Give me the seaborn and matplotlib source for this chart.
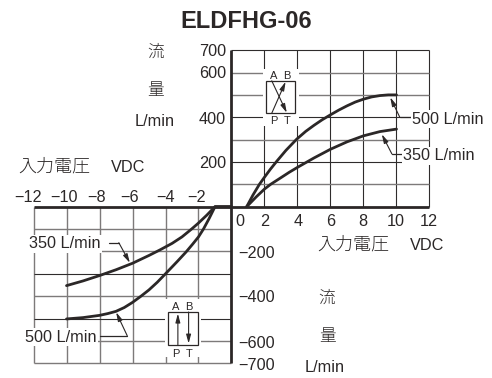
import matplotlib
matplotlib.use("Agg")
import matplotlib.pyplot as plt
import seaborn as sns
import pandas as pd
from matplotlib.patches import Rectangle

sns.set_theme(style="white")
plt.rcParams['font.family'] = ['Liberation Sans', 'Noto Sans CJK JP', 'DejaVu Sans']

TITLE = "ELDFHG-06"
volt_500_pos = [0.92, 1.3, 1.69, 2, 2.35, 2.74, 3.3, 3.95, 4.5, 5, 5.5, 6, 6.5, 7, 7.5, 8, 8.5, 9, 9.5, 10]
flow_500_pos = [0, 52, 100, 132, 167, 203, 252, 302, 337, 364, 389, 411, 432, 451, 468, 481, 491, 497, 500, 500]
volt_350_pos = [0.92, 1.5, 2, 2.37, 3, 3.5, 4, 5, 6, 7, 8, 9, 10]
flow_350_pos = [0, 44, 79, 100, 130, 154, 176, 218, 257, 290, 317, 336, 347]
volt_350_neg = [0, -1, -1.5, -2, -2.42, -3, -3.6, -4.33, -5, -6, -7, -8, -9, -10]
flow_350_neg = [0, 0, -38, -73, -100, -135, -164, -193, -218, -253, -282, -308, -332, -353]
volt_500_neg = [0, -1, -1.35, -1.7, -2, -2.35, -2.76, -3.3, -4, -4.5, -5, -5.5, -6, -6.5, -7, -7.5, -8, -9, -10]
flow_500_neg = [0, 0, -52, -100, -135, -167, -203, -246, -300, -338, -372, -401, -428, -451, -468, -478, -486, -496, -502]

x_grid_pos = [2, 4, 6, 8, 10, 12]
x_grid_neg = [-12, -10, -8, -6, -4, -2]
y_dark = [700, 400, 200, -300, -500]
y_grey = [600, 500, 300, 100, -100, -200, -400, -600, -700]

x_labels_pos = ["0", "2", "4", "6", "8", "10", "12"]
x_labels_neg = ["−12", "−10", "−8", "−6", "−4", "−2"]
y_labels_pos = ["700", "600", "400", "200"]
y_labels_neg = ["−200", "−400", "−600", "−700"]

df = pd.concat([
    pd.DataFrame({"v": volt_500_pos, "q": flow_500_pos, "s": "500+"}),
    pd.DataFrame({"v": volt_350_pos, "q": flow_350_pos, "s": "350+"}),
    pd.DataFrame({"v": volt_350_neg, "q": flow_350_neg, "s": "350-"}),
    pd.DataFrame({"v": volt_500_neg, "q": flow_500_neg, "s": "500-"}),
])

W, H = 492, 378
X0, Y0, SX, SY = 231.5, 206.7, 16.5, 0.2236
fig = plt.figure(figsize=(W / 100, H / 100), dpi=100, facecolor="white")
ax = fig.add_axes([0, 0, 1, 1])
ax.set_xlim(-X0 / SX, (W - X0) / SX)
ax.set_ylim(-(H - Y0) / SY, Y0 / SY)
for s in ax.spines.values():
    s.set_visible(False)

INK = "#2b2727"
DARK = "#2f2c2c"
GREY = "#7d7a7a"
# grid
ax.vlines(x_grid_pos, 0, 700, color=DARK, lw=0.8, zorder=1)
ax.vlines(x_grid_neg, -700, 0, color=GREY, lw=1.0, zorder=1)
for lev in y_dark + y_grey:
    col, lw = (DARK, 0.8) if lev in y_dark else (GREY, 1.0)
    if lev > 0:
        ax.hlines(lev, 0, 12, color=col, lw=lw, zorder=1)
    else:
        ax.hlines(lev, -12, 0, color=col, lw=lw, zorder=1)
# axes
ax.hlines(0, -12, 12, color=INK, lw=2.0, zorder=3)
ax.vlines(0, -700, 700, color=INK, lw=2.0, zorder=3)

# inset masks
ax.add_patch(Rectangle((1.9, 362), 2.2, 254, fc="white", ec="none", zorder=2))
ax.add_patch(Rectangle((-4.05, -670), 2.2, 259, fc="white", ec="none", zorder=2))

sns.lineplot(data=df, x="v", y="q", units="s", estimator=None, sort=False,
             color=INK, lw=2.0, ax=ax, zorder=4, legend=False)
ax.set_xlabel(""); ax.set_ylabel("")
ax.set_xticks([]); ax.set_yticks([])

def arrow(tip, tail, lw=0.8, ms=7):
    ax.annotate("", xy=tip, xytext=tail, zorder=6,
                arrowprops=dict(arrowstyle="-|>,head_width=0.2,head_length=0.75", color=INK,
                                lw=lw, mutation_scale=ms, shrinkA=0, shrinkB=0))

# top inset
ax.add_patch(Rectangle((2.08, 418), 1.78, 145, fc="none", ec=INK, lw=0.9, zorder=5))
arrow((3.35, 420), (2.44, 563))
arrow((3.28, 559), (2.44, 418))
# bottom inset
ax.add_patch(Rectangle((-3.84, -619), 1.8, 148, fc="none", ec=INK, lw=0.9, zorder=5))
arrow((-3.25, -478), (-3.25, -619))
arrow((-2.6, -612), (-2.6, -471))

# leader lines
ax.plot([10.9, 10.2], [400, 400], color=INK, lw=0.9, zorder=5)
arrow((9.62, 489), (10.2, 400))
ax.plot([10.35, 9.72], [236, 236], color=INK, lw=0.9, zorder=5)
arrow((9.11, 324), (9.72, 236))
ax.plot([-7.43, -6.83], [-161, -161], color=INK, lw=0.9, zorder=5)
arrow((-6.16, -251), (-6.83, -161))
ax.plot([-7.98, -6.32], [-577, -577], color=INK, lw=0.9, zorder=5)
arrow((-6.99, -472), (-6.32, -577))

def T(x, y, s, size=11.7, ha="center", **kw):
    fig.text(x / W, 1 - (y + 1) / H, s, fontsize=size, ha=ha, va="center", color=INK, zorder=8, **kw)

T(246, 20, TITLE, size=17, fontweight="bold")
for s, y in zip(y_labels_pos, [51, 73, 118, 163]):
    T(226, y, s, ha="right")
for s, y in zip(y_labels_neg, [252, 297, 342, 364]):
    T(238, y, s, ha="left")
for s, x in zip(x_labels_pos, [240, 265, 298, 331, 363, 396, 429]):
    T(x, 221, s)
for s, x in zip(x_labels_neg, [28, 64, 97, 130, 166, 197]):
    T(x, 196, s)

T(156, 51, "流", size=12, fontweight="light")
T(156, 89, "量", size=12, fontweight="light")
T(155, 120, "L/min")
T(18, 166, "入力電圧", size=13, ha="left", fontweight="light")
T(111, 166, "VDC", ha="left")
T(317, 244, "入力電圧", size=13, ha="left", fontweight="light")
T(410, 244, "VDC", ha="left")
T(327, 297, "流", size=12, fontweight="light")
T(327, 335, "量", size=12, fontweight="light")
T(325, 366, "L/min")

bb = dict(fc="white", ec="none", pad=1)
for x, y, s in [(412, 118, "500 L/min"), (403, 155, "350 L/min"),
                (29, 243, "350 L/min"), (25, 336, "500 L/min")]:
    fig.text(x / W, 1 - (y + 1) / H, s, fontsize=11.7, ha="left", va="center", color=INK, zorder=8,
             bbox=bb)

for x, y, s in [(274, 75, "A"), (287, 75, "B"), (274, 120, "P"), (287, 120, "T"),
                (176, 306, "A"), (189, 306, "B"), (176, 353, "P"), (189, 353, "T")]:
    T(x, y, s, size=8)

fig.savefig("out.png", dpi=100)
